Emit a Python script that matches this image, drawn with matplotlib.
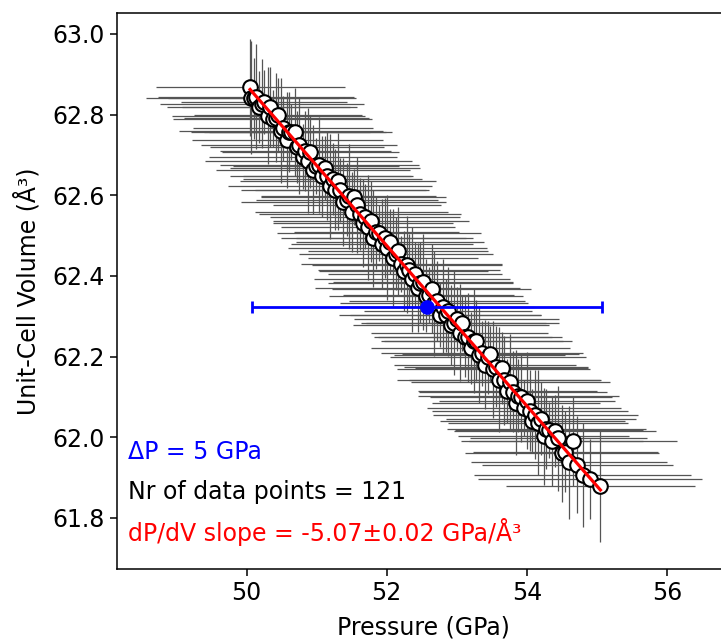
import numpy as np
import matplotlib
matplotlib.use('Agg')
import matplotlib.pyplot as plt

# Pressure points (GPa) and unit-cell volumes (A^3)
pressure = [
    50.05, 50.06, 50.10, 50.14, 50.17, 50.22, 50.25, 50.31, 50.33, 50.37,
    50.42, 50.45, 50.49, 50.52, 50.58, 50.61, 50.64, 50.69, 50.72, 50.75,
    50.80, 50.84, 50.88, 50.91, 50.95, 50.99, 51.04, 51.07, 51.12, 51.15,
    51.19, 51.23, 51.26, 51.31, 51.34, 51.38, 51.43, 51.46, 51.50, 51.53,
    51.58, 51.62, 51.66, 51.69, 51.73, 51.77, 51.81, 51.85, 51.89, 51.93,
    51.97, 52.01, 52.05, 52.09, 52.13, 52.16, 52.21, 52.24, 52.29, 52.32,
    52.36, 52.40, 52.44, 52.48, 52.52, 52.56, 52.60, 52.64, 52.68, 52.72,
    52.76, 52.80, 52.84, 52.88, 52.92, 52.96, 53.00, 53.04, 53.08, 53.12,
    53.16, 53.20, 53.24, 53.28, 53.32, 53.36, 53.40, 53.44, 53.48, 53.52,
    53.56, 53.60, 53.64, 53.68, 53.72, 53.76, 53.80, 53.84, 53.88, 53.92,
    53.96, 54.00, 54.04, 54.08, 54.12, 54.16, 54.20, 54.24, 54.28, 54.32,
    54.36, 54.40, 54.45, 54.50, 54.55, 54.60, 54.66, 54.72, 54.80, 54.90,
    55.05,
]
volume = [
    62.868, 62.842, 62.840, 62.844, 62.819, 62.827, 62.831, 62.797, 62.819, 62.790,
    62.792, 62.800, 62.760, 62.766, 62.737, 62.757, 62.757, 62.757, 62.720, 62.724,
    62.696, 62.710, 62.686, 62.707, 62.663, 62.673, 62.675, 62.647, 62.668, 62.648,
    62.622, 62.640, 62.614, 62.635, 62.613, 62.583, 62.589, 62.597, 62.558, 62.596,
    62.576, 62.554, 62.531, 62.547, 62.521, 62.535, 62.493, 62.508, 62.506, 62.480,
    62.494, 62.470, 62.485, 62.445, 62.455, 62.461, 62.429, 62.412, 62.428, 62.414,
    62.392, 62.404, 62.371, 62.383, 62.385, 62.351, 62.353, 62.368, 62.332, 62.338,
    62.303, 62.323, 62.302, 62.312, 62.278, 62.284, 62.293, 62.259, 62.283, 62.249,
    62.248, 62.221, 62.239, 62.239, 62.205, 62.208, 62.180, 62.198, 62.206, 62.168,
    62.175, 62.143, 62.172, 62.141, 62.115, 62.136, 62.113, 62.085, 62.103, 62.099,
    62.073, 62.090, 62.066, 62.040, 62.056, 62.036, 62.046, 62.002, 62.020, 62.018,
    61.990, 62.015, 61.997, 61.960, 61.964, 61.938, 61.990, 61.932, 61.906, 61.896,
    61.880,
]
pressure_err = [
    1.35, 1.50, 1.22, 1.40, 1.30, 1.45, 1.18, 1.38, 1.25, 1.42,
    1.32, 1.20, 1.46, 1.28, 1.36, 1.15, 1.44, 1.30, 1.24, 1.40,
    1.34, 1.22, 1.48, 1.26, 1.38, 1.18, 1.42, 1.30, 1.36, 1.20,
    1.45, 1.28, 1.34, 1.40, 1.22, 1.46, 1.30, 1.25, 1.38, 1.32,
    1.20, 1.44, 1.28, 1.36, 1.24, 1.40, 1.32, 1.18, 1.46, 1.30,
    1.26, 1.42, 1.34, 1.22, 1.38, 1.28, 1.44, 1.20, 1.36, 1.30,
    1.40, 1.24, 1.46, 1.32, 1.28, 1.38, 1.22, 1.42, 1.34, 1.26,
    1.44, 1.30, 1.36, 1.20, 1.40, 1.32, 1.46, 1.26, 1.38, 1.24,
    1.34, 1.42, 1.28, 1.36, 1.22, 1.44, 1.30, 1.40, 1.26, 1.38,
    1.32, 1.46, 1.24, 1.36, 1.28, 1.42, 1.34, 1.20, 1.44, 1.30,
    1.38, 1.26, 1.40, 1.32, 1.46, 1.28, 1.36, 1.22, 1.42, 1.34,
    1.30, 1.44, 1.26, 1.38, 1.32, 1.40, 1.48, 1.36, 1.55, 1.60,
    1.35,
]
volume_err = [
    0.12, 0.14, 0.10, 0.13, 0.09, 0.11, 0.08, 0.12, 0.10, 0.07,
    0.11, 0.09, 0.13, 0.08, 0.12, 0.10, 0.07, 0.11, 0.09, 0.12,
    0.08, 0.10, 0.13, 0.09, 0.11, 0.07, 0.12, 0.10, 0.08, 0.11,
    0.13, 0.09, 0.10, 0.12, 0.08, 0.11, 0.09, 0.13, 0.10, 0.07,
    0.12, 0.09, 0.11, 0.08, 0.13, 0.10, 0.12, 0.09, 0.07, 0.11,
    0.10, 0.13, 0.08, 0.12, 0.09, 0.11, 0.07, 0.10, 0.12, 0.09,
    0.13, 0.08, 0.11, 0.10, 0.12, 0.09, 0.07, 0.11, 0.13, 0.10,
    0.08, 0.12, 0.09, 0.11, 0.10, 0.13, 0.08, 0.12, 0.07, 0.10,
    0.11, 0.09, 0.13, 0.10, 0.12, 0.08, 0.11, 0.09, 0.07, 0.12,
    0.10, 0.13, 0.09, 0.11, 0.08, 0.12, 0.10, 0.13, 0.09, 0.11,
    0.07, 0.12, 0.10, 0.08, 0.11, 0.13, 0.09, 0.12, 0.10, 0.07,
    0.11, 0.09, 0.13, 0.12, 0.10, 0.14, 0.11, 0.12, 0.13, 0.10,
    0.14,
]

# Pressure window (blue point)
window_center_p = 52.57
window_center_v = 62.324
window_width = 5

P = np.array(pressure)
V = np.array(volume)

# linear fit through the data
coef = np.polyfit(P, V, 1)
p_fit = np.array([P.min(), P.max()])
v_fit = np.polyval(coef, p_fit)

fig = plt.figure(figsize=(7.21, 6.44), dpi=100)
# axes runs slightly past the right edge, like the original (cropped) image
ax = fig.add_axes([117 / 721, 75 / 644, 613 / 721, 556 / 644])

ax.errorbar(P, V, xerr=pressure_err, yerr=volume_err, fmt='none',
            ecolor='#555555', elinewidth=0.9, zorder=1)
ax.plot(P, V, 'o', mfc='white', mec='black', ms=10.5, mew=1.5, zorder=2)
ax.plot(p_fit, v_fit, color='red', lw=2.3, zorder=3)
ax.errorbar([window_center_p], [window_center_v], xerr=window_width / 2,
            fmt='o', color='blue', ms=9.5, elinewidth=2, capsize=4.5,
            capthick=2, zorder=4)

ax.set_xlim(48.15, 56.9)
ax.set_ylim(61.673, 63.052)
ax.set_xticks([50, 52, 54, 56])
ax.set_yticks([61.8, 62.0, 62.2, 62.4, 62.6, 62.8, 63.0])
ax.tick_params(labelsize=17, width=1.1, length=5)
for s in ax.spines.values():
    s.set_linewidth(1.1)
ax.set_xlabel('Pressure (GPa)', fontsize=17, labelpad=8)
ax.set_ylabel('Unit-Cell Volume (Å³)', fontsize=17, labelpad=9)

ax.text(0.018, 0.21, f'ΔP = {window_width} GPa', color='blue', fontsize=17,
        transform=ax.transAxes, va='center')
ax.text(0.018, 0.138, f'Nr of data points = {len(P)}', color='black',
        fontsize=17, transform=ax.transAxes, va='center')
ax.text(0.018, 0.067, 'dP/dV slope = -5.07±0.02 GPa/Å³', color='red',
        fontsize=17, transform=ax.transAxes, va='center')

fig.savefig('out.png', dpi=100)
